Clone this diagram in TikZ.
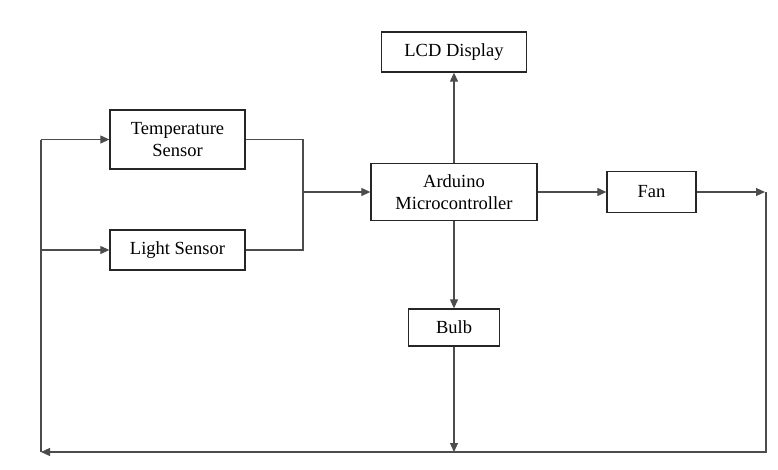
\documentclass[tikz,border=0pt]{standalone}
\usepackage{fontspec}
\setmainfont{Liberation Serif}
\usetikzlibrary{arrows.meta}
\tikzset{
  blk/.style={draw=black!85, line width=1.3pt, fill=white, align=center, inner sep=0pt,
    font=\fontsize{18.5}{22.5}\selectfont},
  conn/.style={draw=black!70, line width=1.1pt},
  arr/.style={conn, -{Triangle[length=9pt,width=8pt]}},
}
\begin{document}
\begin{tikzpicture}[x=1pt,y=-1pt]
\useasboundingbox (0,0) rectangle (778,469);
\node[blk, minimum width=135pt, minimum height=59pt] (temp) at (177.5,139.5) {Temperature\\Sensor};
\node[blk, minimum width=135pt, minimum height=40pt] (light) at (177.5,250) {Light Sensor};
\node[blk, minimum width=166pt, minimum height=57pt] (ard) at (454,192) {Arduino\\Microcontroller};
\node[blk, minimum width=145pt, minimum height=40pt] (lcd) at (454,52) {LCD Display};
\node[blk, minimum width=89pt, minimum height=41pt] (fan) at (651.5,192) {Fan};
\node[blk, minimum width=91pt, minimum height=37pt] (bulb) at (454,327.5) {Bulb};

\coordinate (jn) at (303,192);
\coordinate (rc) at (765,192);
\coordinate (br) at (766,452);
\coordinate (bl) at (41,452);
\coordinate (bm) at (454,452);
\coordinate (tl) at (41,139.5);
\coordinate (ll) at (41,250);

\draw[conn] (temp.east) -| (jn);
\draw[conn] (light.east) -| (jn);
\draw[arr] (jn) -- (ard.west);
\draw[arr] (ard.north) -- (lcd.south);
\draw[arr] (ard.south) -- (bulb.north);
\draw[arr] (ard.east) -- (fan.west);
\draw[arr] (fan.east) -- (rc);
\draw[arr] (bulb.south) -- (bm);
\draw[arr] (rc -| br) -- (br) -- (bl);
\draw[conn] (bl) -- (tl);
\draw[arr] (tl) -- (temp.west);
\draw[arr] (ll) -- (light.west);
\end{tikzpicture}
\end{document}
